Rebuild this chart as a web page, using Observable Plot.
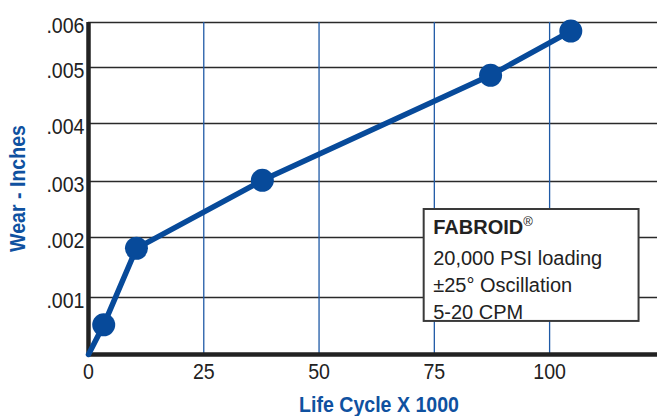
<!DOCTYPE html>
<html>
<head>
<meta charset="utf-8">
<script src="https://cdn.jsdelivr.net/npm/d3@7"></script>
<script src="https://cdn.jsdelivr.net/npm/@observablehq/plot@0.6"></script>
<style>
  html, body { margin: 0; padding: 0; background: #fff; }
  #chart svg { display: block; }
</style>
</head>
<body>
<div id="chart"></div>
<script>
// Data
const lifeCycles = [0, 3.3, 10.4, 37.7, 87.2, 104.6];          // x 1000
const wearInches = [0, 0.00052, 0.00182, 0.00302, 0.00486, 0.00581];
const markedPoints = [1, 2, 3, 4, 5];                            // indices drawn with dots

const xTicks = [0, 25, 50, 75, 100];
const xTickLabels = ["0", "25", "50", "75", "100"];
const xGridTicks = [25, 50, 75, 100];
const yTicks = [0.001, 0.002, 0.003, 0.004, 0.005, 0.006];
const yTickLabels = [".001", ".002", ".003", ".004", ".005", ".006"];

const legendTitle = "FABROID®";
const legendLines = ["20,000 PSI loading", "±25° Oscillation", "5-20 CPM"];
const legendBox = {x1: 72.8, x2: 119.4, y1: 0.00058, y2: 0.0025};

const xTitle = "Life Cycle X 1000";
const yTitle = "Wear - Inches";

const data = lifeCycles.map((x, i) => ({x, y: wearInches[i]}));
const dots = markedPoints.map(i => data[i]);

const blue = "#074a9a";
const titleBlue = "#0f51a0";
const font = "'Liberation Sans', Arial, sans-serif";

const chart = Plot.plot({
  width: 657,
  height: 416,
  marginLeft: 88,
  marginRight: 0,
  marginTop: 22,
  marginBottom: 62,
  style: {fontFamily: font, background: "#fff", overflow: "visible"},
  x: {domain: [0, 123.4]},
  y: {
    type: "linear",
    domain: [0, 0.001, 0.002, 0.003, 0.004, 0.005, 0.006],
    range: [354, 297, 237, 181, 123, 67, 22]
  },
  marks: [
    Plot.gridY(yTicks, {stroke: "#2a2a2a", strokeOpacity: 1, strokeWidth: 1.3}),
    Plot.gridX(xGridTicks, {stroke: "#1f5aa6", strokeOpacity: 1, strokeWidth: 1.3}),
    Plot.ruleY([0], {stroke: "#222", strokeWidth: 4.5}),
    Plot.ruleX([0], {stroke: "#222", strokeWidth: 4.5}),
    Plot.axisX(xTicks, {
      tickSize: 0, tickPadding: 9, fontSize: 22, fill: "#222",
      tickFormat: (d) => xTickLabels[xTicks.indexOf(d)], label: null
    }),
    Plot.axisY(yTicks, {
      tickSize: 0, tickPadding: 4, fontSize: 22, fill: "#222", dy: 3,
      tickFormat: d => yTickLabels[yTicks.indexOf(d)], label: null
    }),
    Plot.line(data, {x: "x", y: "y", stroke: blue, strokeWidth: 5.5, strokeLinejoin: "round"}),
    Plot.dot(dots, {x: "x", y: "y", r: 11.5, fill: blue, stroke: "none"}),
    Plot.rect([legendBox], {x1: "x1", x2: "x2", y1: "y1", y2: "y2", fill: "#fff", stroke: "#3a3a3a", strokeWidth: 2}),
    Plot.text([legendTitle], {
      x: legendBox.x1, y: legendBox.y2, text: d => d, textAnchor: "start", lineAnchor: "top",
      dx: 9, dy: 10, fontSize: 20, fontWeight: "bold", fill: "#222"
    }),
    Plot.text([legendLines.join("\n")], {
      x: legendBox.x1, y: legendBox.y2, text: d => d, textAnchor: "start", lineAnchor: "top",
      dx: 9, dy: 37, fontSize: 20, lineHeight: 1.33, fill: "#222"
    }),
    Plot.text([xTitle], {
      frameAnchor: "bottom", text: d => d, textAnchor: "middle", lineAnchor: "middle",
      dx: 6, dy: 50, fontSize: 22, fontWeight: "bold", fill: titleBlue
    }),
    Plot.text([yTitle], {
      frameAnchor: "left", text: d => d, textAnchor: "middle", lineAnchor: "middle",
      dx: -71, rotate: -90, fontSize: 22, fontWeight: "bold", fill: titleBlue
    })
  ]
});

document.getElementById("chart").append(chart);

// superscript the registered mark
d3.select(chart).selectAll("text").each(function () {
  if (this.textContent === legendTitle) {
    const t = d3.select(this);
    t.text(null);
    t.append("tspan").text(legendTitle.slice(0, -1));
    t.append("tspan").attr("font-size", 13).attr("font-weight", "normal").attr("dy", -8).text("®");
  }
});

// condensed look for axis labels and titles (no condensed font installed)
const condensed = new Set([...xTickLabels, ...yTickLabels, xTitle, yTitle]);
d3.select(chart).selectAll("text").each(function () {
  if (condensed.has(this.textContent) && !this.querySelector("tspan")) {
    const len = this.getComputedTextLength();
    this.setAttribute("textLength", (len * 0.89).toFixed(1));
    this.setAttribute("lengthAdjust", "spacingAndGlyphs");
  }
});
</script>
</body>
</html>
